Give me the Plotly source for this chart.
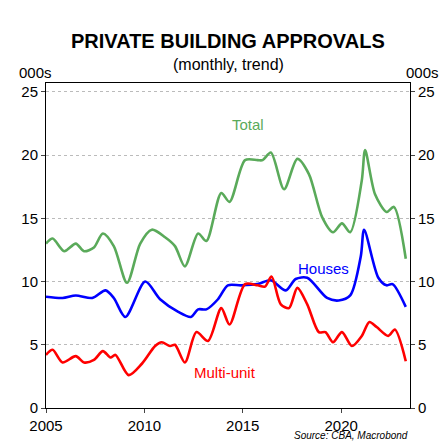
import plotly.graph_objects as go

def yr(zx): return 2005 + (zx - 10) / 59.5

total_zx = [10,30,65,100,125,155,182,215,255,295,330,370,400,430,470,495,540,565,612,650,665,690,730,770,805,845,878,905,930,965,975,1005,1040,1062,1098]
total_v = [13.0,13.4,12.4,13.0,12.4,12.7,13.8,12.8,9.9,13.0,14.1,13.5,12.8,11.2,13.8,13.2,17.0,16.3,19.6,19.6,19.6,20.2,17.3,19.7,18.5,15.1,13.9,14.6,13.9,18.0,20.4,16.9,15.5,15.9,11.8]
houses_zx = [10,60,100,150,190,215,250,310,355,410,448,470,495,530,560,600,650,690,735,765,800,860,895,930,962,972,1015,1040,1058,1098]
houses_v = [8.8,8.7,8.9,8.7,9.3,8.7,7.2,10.0,8.6,7.6,7.2,7.8,7.8,8.6,9.7,9.7,9.8,10.1,9.3,10.2,10.3,8.7,8.5,8.9,12.0,14.1,10.3,9.7,9.8,8.0]
multi_zx = [10,30,60,100,125,155,182,205,220,260,300,340,360,385,400,430,465,500,540,565,612,650,672,692,720,745,770,800,835,855,878,905,935,965,988,1010,1045,1065,1098]
multi_v = [4.2,4.6,3.6,4.1,3.6,3.8,4.5,4.0,4.2,2.6,3.5,4.9,5.2,4.9,5.0,3.6,6.0,5.3,7.9,6.6,9.8,9.7,9.6,10.4,8.2,7.9,9.5,8.2,6.0,6.0,5.2,6.0,4.9,5.7,6.8,6.4,5.7,6.2,3.7]

fig = go.Figure()
for zx, v, c in [(total_zx, total_v, '#5aaa5a'), (houses_zx, houses_v, '#0000ff'), (multi_zx, multi_v, '#ff0000')]:
    fig.add_trace(go.Scatter(x=[yr(z) for z in zx], y=v, mode='lines',
                             line=dict(color=c, width=2.6, shape='spline', smoothing=0.8), showlegend=False))
fig.add_trace(go.Scatter(x=[2010], y=[0], yaxis='y2', mode='markers', marker=dict(opacity=0), showlegend=False, hoverinfo='skip'))

f = dict(family='Arial, Liberation Sans', color='black')
tick = dict(range=[0, 25.7], tickvals=[0,5,10,15,20,25], showgrid=True, gridcolor='#bbbbbb', griddash='dot',
            zeroline=False, ticks='outside', ticklen=4, tickfont=dict(size=15, **f), showline=True, linecolor='black')
fig.update_layout(
    width=448, height=444, plot_bgcolor='white', paper_bgcolor='white',
    margin=dict(l=38, r=46, t=75, b=44),
    xaxis=dict(range=[2005, 2023.5], tickvals=[2005,2010,2015,2020], showgrid=False, zeroline=False,
               ticks='outside', ticklen=4, tickfont=dict(size=15, **f), showline=True, linecolor='black', mirror=True),
    yaxis=tick,
    yaxis2=dict(**{**tick, 'showgrid': False}, overlaying='y', side='right'),
    annotations=[
        dict(text='<b>PRIVATE BUILDING APPROVALS</b>', x=0.5, y=436, xref='paper', yref='paper', showarrow=False, font=dict(size=20, **f)),
        dict(text='(monthly, trend)', x=0.5, y=1, xref='paper', yref='paper', showarrow=False, font=dict(size=16, **f)),
        dict(text='Total', x=yr(620), y=22.4, xref='x', yref='y', showarrow=False, font=dict(size=15, color='#5aaa5a', family='Arial')),
        dict(text='Houses', x=yr(848), y=11.0, xref='x', yref='y', showarrow=False, font=dict(size=15, color='#0000ff', family='Arial')),
        dict(text='Multi-unit', x=yr(550), y=2.8, xref='x', yref='y', showarrow=False, font=dict(size=15, color='#ff0000', family='Arial')),
        dict(text='000s', x=0, y=1.0, xref='paper', yref='paper', xanchor='right', yanchor='bottom', showarrow=False, xshift=8, font=dict(size=15, **f)),
        dict(text='000s', x=1, y=1.0, xref='paper', yref='paper', xanchor='left', yanchor='bottom', showarrow=False, xshift=-6, font=dict(size=15, **f)),
        dict(text='<i>Source: CBA, Macrobond</i>', x=1, y=-0.06, xref='paper', yref='paper', xanchor='right', yanchor='top', showarrow=False, font=dict(size=10, **f)),
    ])
# place title lines in pixel terms via paper coords
plot_h = 444 - 75 - 44
fig.layout.annotations[0].y = 1 + (75 - 20) / plot_h
fig.layout.annotations[1].y = 1 + (75 - 46) / plot_h
fig.write_html('out.html')
